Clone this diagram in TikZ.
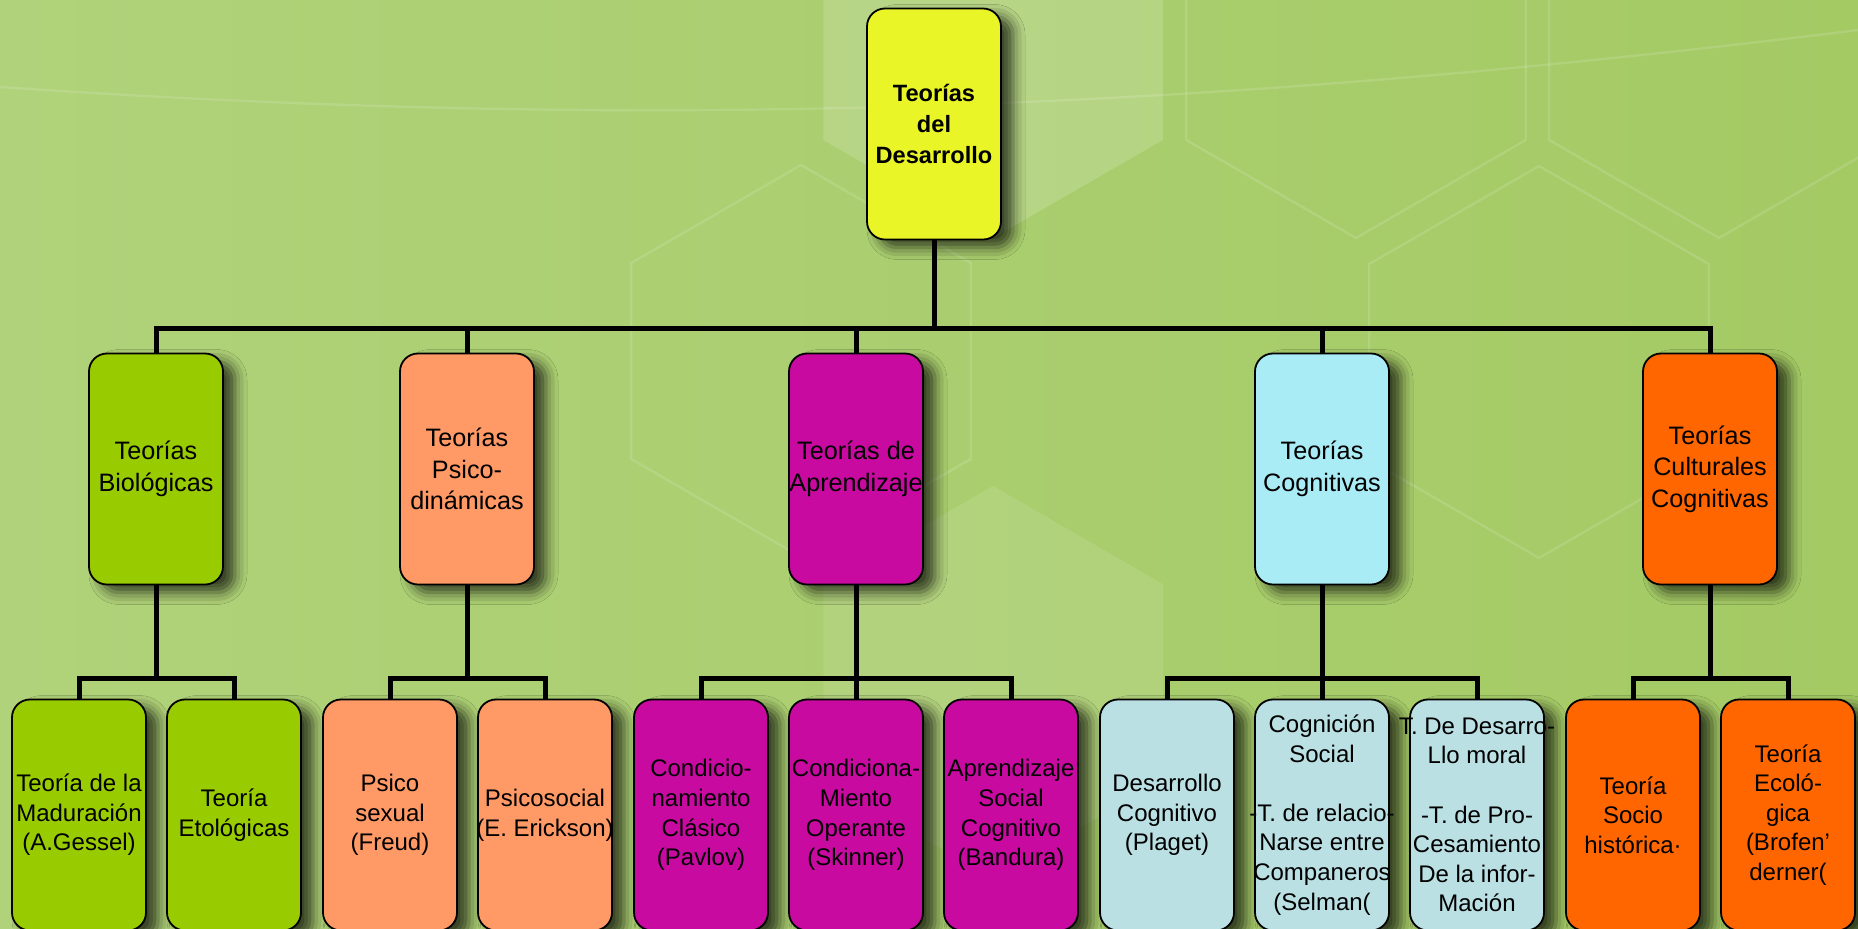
\documentclass[tikz,border=0pt]{standalone}
\usepackage{fontspec}
\setmainfont{Liberation Sans}
\usetikzlibrary{shadows.blur}

\definecolor{bggreen}{RGB}{164,202,100}
\definecolor{bglight}{RGB}{176,210,122}
\definecolor{rootfill}{RGB}{234,245,40}
\definecolor{biofill}{RGB}{153,204,0}
\definecolor{psicofill}{RGB}{255,153,102}
\definecolor{aprfill}{RGB}{200,10,160}
\definecolor{cogfill}{RGB}{170,236,245}
\definecolor{cogleaf}{RGB}{186,224,228}
\definecolor{cultfill}{RGB}{255,102,0}

% a line that is allowed to run past the box edge
\newcommand{\spill}[1]{\makebox[0pt]{#1}}

\tikzset{
  theory/.style={draw=black, line width=0.9pt, rounded corners=9pt,
    minimum width=67pt, minimum height=115.5pt, inner sep=0pt, align=center,
    font=\fontsize{12.6}{15.7}\selectfont,
    blur shadow={shadow xshift=6pt, shadow yshift=-4pt, shadow blur radius=6pt, shadow opacity=70}},
  leaf/.style={theory, font=\fontsize{12}{14.8}\selectfont},
  branch/.style={line width=2.5pt},
  hexline/.style={white, opacity=0.13, line width=1.2pt}
}

\begin{document}
\begin{tikzpicture}[x=0.5pt,y=-0.5pt]
\useasboundingbox (0,0) rectangle (1858,928);
\clip (0,0) rectangle (1858,928);

% background
\shade[left color=bglight, right color=bggreen] (0,0) rectangle (1858,928);
\fill[white, opacity=0.16] (993,42) +(30:196) -- +(90:196) -- +(150:196) -- +(210:196) -- +(270:196) -- +(330:196) -- cycle;
\fill[white, opacity=0.10] (993,682) +(30:196) -- +(90:196) -- +(150:196) -- +(210:196) -- +(270:196) -- +(330:196) -- cycle;
\draw[hexline] (1356,42) +(30:196) -- +(90:196) -- +(150:196) -- +(210:196) -- +(270:196) -- +(330:196) -- cycle;
\draw[hexline] (1719,42) +(30:196) -- +(90:196) -- +(150:196) -- +(210:196) -- +(270:196) -- +(330:196) -- cycle;
\draw[hexline] (1539,362) +(30:196) -- +(90:196) -- +(150:196) -- +(210:196) -- +(270:196) -- +(330:196) -- cycle;
\draw[hexline] (801,361) +(30:196) -- +(90:196) -- +(150:196) -- +(210:196) -- +(270:196) -- +(330:196) -- cycle;
\draw[hexline] (0,87) .. controls (600,128) and (1150,118) .. (1858,30);

% levels
\node[theory, fill=rootfill, font=\fontsize{11.8}{15.3}\selectfont\bfseries] (root) at (934,124) {Teorías\\del\\Desarrollo};

\node[theory, fill=biofill] (bio) at (156,469) {Teorías\\Biológicas};
\node[theory, fill=psicofill] (psico) at (467,469) {Teorías\\Psico-\\dinámicas};
\node[theory, fill=aprfill] (apr) at (856,469) {Teorías de\\Aprendizaje};
\node[theory, fill=cogfill] (cog) at (1322,469) {Teorías\\Cognitivas};
\node[theory, fill=cultfill] (cult) at (1710,469) {Teorías\\Culturales\\Cognitivas};

\node[leaf, fill=biofill] (madur) at (79,815) {Teoría de la\\Maduración\\(A.Gessel)};
\node[leaf, fill=biofill] (etol) at (234,815) {Teoría\\Etológicas};
\node[leaf, fill=psicofill] (psex) at (390,815) {Psico\\sexual\\(Freud)};
\node[leaf, fill=psicofill] (psoc) at (545,815) {Psicosocial\\\spill{(E. Erickson)}};
\node[leaf, fill=aprfill] (clasico) at (701,815) {Condicio-\\namiento\\Clásico\\(Pavlov)};
\node[leaf, fill=aprfill] (operante) at (856,815) {Condiciona-\\Miento\\Operante\\(Skinner)};
\node[leaf, fill=aprfill] (bandura) at (1011,815) {Aprendizaje\\Social\\Cognitivo\\(Bandura)};
\node[leaf, fill=cogleaf] (piaget) at (1167,815) {Desarrollo\\Cognitivo\\(Plaget)};
\node[leaf, fill=cogleaf] (selman) at (1322,815) {Cognición\\Social\\[14.8pt]\spill{-T. de relacio-}\\Narse entre\\\spill{Companeros}\\(Selman(};
\node[leaf, fill=cogleaf] (moral) at (1477,815) {\spill{T. De Desarro-}\\Llo moral\\[14.8pt]-T. de Pro-\\Cesamiento\\De la infor-\\Mación};
\node[leaf, fill=cultfill] (socioh) at (1633,815) {Teoría\\Socio\\histórica·};
\node[leaf, fill=cultfill] (ecol) at (1788,815) {Teoría\\Ecoló-\\gica\\(Brofen'\\derner(};

% connectors
\coordinate (bus0) at (934,328);
\coordinate (bus1) at (0,678);
\draw[branch] (root.south) -- (root.south|-bus0) -| (bio.north);
\draw[branch] (root.south) -- (root.south|-bus0) -| (psico.north);
\draw[branch] (root.south) -- (root.south|-bus0) -| (apr.north);
\draw[branch] (root.south) -- (root.south|-bus0) -| (cog.north);
\draw[branch] (root.south) -- (root.south|-bus0) -| (cult.north);
\draw[branch] (bio.south) -- (bio.south|-bus1) -| (madur.north);
\draw[branch] (bio.south) -- (bio.south|-bus1) -| (etol.north);
\draw[branch] (psico.south) -- (psico.south|-bus1) -| (psex.north);
\draw[branch] (psico.south) -- (psico.south|-bus1) -| (psoc.north);
\draw[branch] (apr.south) -- (apr.south|-bus1) -| (clasico.north);
\draw[branch] (apr.south) -- (operante.north);
\draw[branch] (apr.south) -- (apr.south|-bus1) -| (bandura.north);
\draw[branch] (cog.south) -- (cog.south|-bus1) -| (piaget.north);
\draw[branch] (cog.south) -- (selman.north);
\draw[branch] (cog.south) -- (cog.south|-bus1) -| (moral.north);
\draw[branch] (cult.south) -- (cult.south|-bus1) -| (socioh.north);
\draw[branch] (cult.south) -- (cult.south|-bus1) -| (ecol.north);
\end{tikzpicture}
\end{document}
